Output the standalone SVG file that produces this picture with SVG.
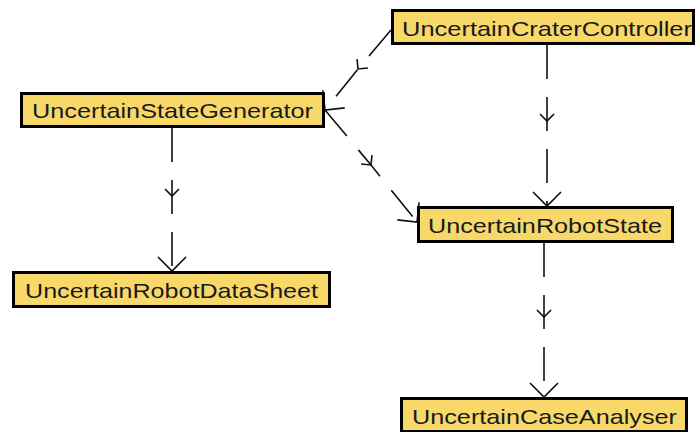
<svg xmlns="http://www.w3.org/2000/svg" width="696" height="432" viewBox="0 0 696 432">
  <style>
    .box { fill: #F9D86A; stroke: #000; stroke-width: 3; }
    .lbl { font-family: "Liberation Sans", "DejaVu Sans", sans-serif; font-size: 21px; fill: #1a1a1a; }
    .dep { fill: none; stroke: #111; stroke-width: 1.6; stroke-dasharray: 34 18; marker-mid: url(#mid); marker-end: url(#head); }
  </style>
  <defs>
    <marker id="head" markerUnits="userSpaceOnUse" markerWidth="40" markerHeight="40" refX="0" refY="0" orient="auto" overflow="visible">
      <path d="M -14 -14 L 0 0 L -14 14" fill="none" stroke="#111" stroke-width="1.6" stroke-dasharray="none"/>
    </marker>
    <marker id="mid" markerUnits="userSpaceOnUse" markerWidth="20" markerHeight="20" refX="0" refY="0" orient="auto" overflow="visible">
      <path d="M -7 -7 L 0 0 L -7 7" fill="none" stroke="#111" stroke-width="1.6" stroke-dasharray="none"/>
    </marker>
  </defs>
  <rect width="696" height="432" fill="#fff"/>
  <g id="connectors">
    <path class="dep" d="M391,30 L358,69 L325,110"/>
    <path class="dep" d="M325,110 L371,165 L417,222"/>
    <path class="dep" d="M172,128 L172,196 L172,271"/>
    <path class="dep" d="M547,45 L547,121 L547,206"/>
    <path class="dep" d="M544,243 L544,317 L544,397"/>
  </g>
  <g id="UncertainCraterController">
    <rect class="box" x="392.5" y="10.5" width="301" height="33"/>
    <text class="lbl" x="402" y="36" textLength="290" lengthAdjust="spacingAndGlyphs">UncertainCraterController</text>
  </g>
  <g id="UncertainStateGenerator">
    <rect class="box" x="21.5" y="93.5" width="302" height="33"/>
    <text class="lbl" x="32" y="118" textLength="281" lengthAdjust="spacingAndGlyphs">UncertainStateGenerator</text>
  </g>
  <g id="UncertainRobotState">
    <rect class="box" x="418.5" y="207.5" width="254" height="34"/>
    <text class="lbl" x="428" y="233" textLength="234" lengthAdjust="spacingAndGlyphs">UncertainRobotState</text>
  </g>
  <g id="UncertainRobotDataSheet">
    <rect class="box" x="13.5" y="272.5" width="316" height="34"/>
    <text class="lbl" x="25" y="298" textLength="293" lengthAdjust="spacingAndGlyphs">UncertainRobotDataSheet</text>
  </g>
  <g id="UncertainCaseAnalyser">
    <rect class="box" x="401.5" y="398.5" width="285" height="33"/>
    <text class="lbl" x="412" y="424" textLength="265" lengthAdjust="spacingAndGlyphs">UncertainCaseAnalyser</text>
  </g>
</svg>
